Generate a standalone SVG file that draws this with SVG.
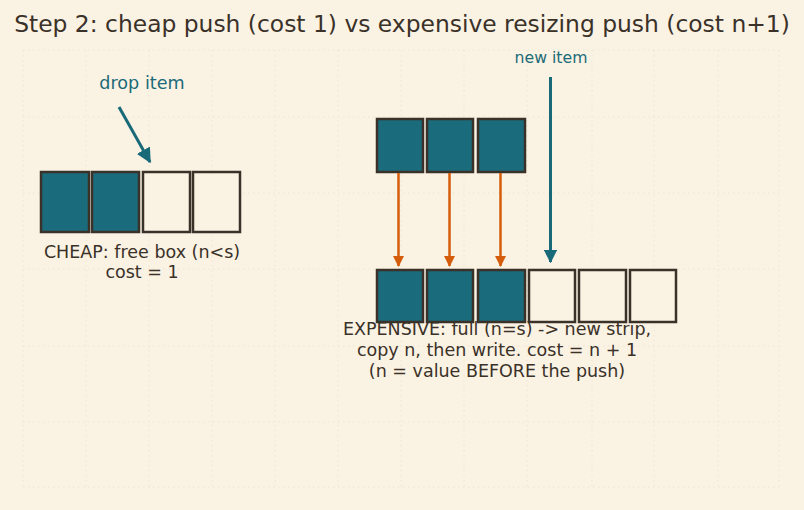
<svg xmlns="http://www.w3.org/2000/svg" width="804" height="510" viewBox="0 0 804 510">
<defs>
<style>
.bg{fill:#faf2e3}
.grid line{stroke:#eee4d0;stroke-width:1;stroke-dasharray:1.5 3.5}
.box{stroke:#3a3129;stroke-width:2.5}
.full{fill:#1a6b7c}
.empty{fill:#faf2e3}
.t{font-family:"DejaVu Sans",sans-serif;fill:#3a3129;text-anchor:middle}
.teal{fill:#1b6b78}
.copy{stroke:#d45d0b;stroke-width:2.5;fill:none}
.new{stroke:#186a79;stroke-width:3;fill:none}
</style>
<marker id="ahO" viewBox="0 0 10 10" refX="9" refY="5" markerWidth="5" markerHeight="4.4" orient="auto" markerUnits="strokeWidth"><path d="M0,0 L10,5 L0,10 z" fill="#d45d0b"/></marker>
<marker id="ahT" viewBox="0 0 10 10" refX="9" refY="5" markerWidth="5" markerHeight="4.4" orient="auto" markerUnits="strokeWidth"><path d="M0,0 L10,5 L0,10 z" fill="#186a79"/></marker>
<marker id="ahD" viewBox="0 0 10 10" refX="9" refY="5" markerWidth="5" markerHeight="5" orient="auto" markerUnits="strokeWidth"><path d="M0,0 L10,5 L0,10 z" fill="#186a79"/></marker>
</defs>
<rect class="bg" x="0" y="0" width="804" height="510"/>
<g class="grid">
<line x1="23" y1="50" x2="23" y2="487"/><line x1="86" y1="50" x2="86" y2="487"/><line x1="149" y1="50" x2="149" y2="487"/><line x1="212" y1="50" x2="212" y2="487"/><line x1="275" y1="50" x2="275" y2="487"/><line x1="338" y1="50" x2="338" y2="487"/><line x1="401" y1="50" x2="401" y2="487"/><line x1="464" y1="50" x2="464" y2="487"/><line x1="527" y1="50" x2="527" y2="487"/><line x1="592" y1="50" x2="592" y2="487"/><line x1="654" y1="50" x2="654" y2="487"/><line x1="718" y1="50" x2="718" y2="487"/><line x1="779" y1="50" x2="779" y2="487"/>
<line x1="23" y1="50" x2="779" y2="50"/><line x1="23" y1="117" x2="779" y2="117"/><line x1="23" y1="193" x2="779" y2="193"/><line x1="23" y1="269" x2="779" y2="269"/><line x1="23" y1="346" x2="779" y2="346"/><line x1="23" y1="422" x2="779" y2="422"/><line x1="23" y1="487" x2="779" y2="487"/>
</g>
<text class="t" x="402" y="32" font-size="23.4">Step 2: cheap push (cost 1) vs expensive resizing push (cost n+1)</text>
<g id="cheap-strip">
<rect class="box full" x="41" y="172" width="48" height="60"/>
<rect class="box full" x="92" y="172" width="47" height="60"/>
<rect class="box empty" x="143" y="172" width="47" height="60"/>
<rect class="box empty" x="193" y="172" width="47" height="60"/>
</g>
<g id="drop-label"><text class="t teal" x="142" y="89" font-size="17.6">drop item</text></g>
<g id="cheap-caption">
<text class="t" x="142" y="258" font-size="17.5">CHEAP: free box (n&lt;s)</text>
<text class="t" x="142" y="278" font-size="17.5">cost = 1</text>
</g>
<g id="old-strip">
<rect class="box full" x="377" y="119" width="46" height="53"/>
<rect class="box full" x="427" y="119" width="46" height="53"/>
<rect class="box full" x="478" y="119" width="47" height="53"/>
</g>
<g id="new-strip">
<rect class="box full" x="377" y="270" width="46" height="52"/>
<rect class="box full" x="427" y="270" width="46" height="52"/>
<rect class="box full" x="478" y="270" width="47" height="52"/>
<rect class="box empty" x="529" y="270" width="46" height="52"/>
<rect class="box empty" x="579" y="270" width="47" height="52"/>
<rect class="box empty" x="630" y="270" width="46" height="52"/>
</g>
<g id="new-label"><text class="t teal" x="551" y="63" font-size="15.7">new item</text></g>
<g id="expensive-caption">
<text class="t" x="497" y="335" font-size="17.5">EXPENSIVE: full (n=s) -&gt; new strip,</text>
<text class="t" x="497" y="356" font-size="17.5">copy n, then write. cost = n + 1</text>
<text class="t" x="497" y="377" font-size="17.5">(n = value BEFORE the push)</text>
</g>
<g id="connectors">
<line class="new" x1="119" y1="107" x2="150" y2="162" marker-end="url(#ahD)" stroke-width="3.6"/>
<line class="copy" x1="398.5" y1="173" x2="398.5" y2="266" marker-end="url(#ahO)"/>
<line class="copy" x1="449.5" y1="173" x2="449.5" y2="266" marker-end="url(#ahO)"/>
<line class="copy" x1="500.5" y1="173" x2="500.5" y2="266" marker-end="url(#ahO)"/>
<line class="new" x1="550.5" y1="77" x2="550.5" y2="262" marker-end="url(#ahT)"/>
</g>
</svg>
